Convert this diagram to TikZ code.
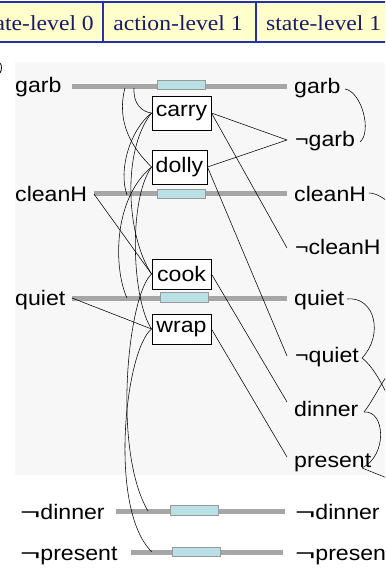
\documentclass[tikz,border=0pt]{standalone}
\usepackage{fontspec}
\setmainfont[FakeStretch=1.1]{Liberation Sans}
\newfontfamily\hdrfont[FakeStretch=1.1]{Liberation Serif}
\definecolor{hdrfill}{HTML}{FFFFCC}
\definecolor{hdrline}{HTML}{2233AA}
\definecolor{hdrtext}{HTML}{1A1A66}
\definecolor{barcol}{HTML}{A6A6A6}
\definecolor{cyanbox}{HTML}{B9E1E5}
\definecolor{bggray}{HTML}{F7F7F7}
\newcommand{\lneg}{\scalebox{1.5}[1]{¬}}
\begin{document}
\begin{tikzpicture}[x=1pt,y=-1pt,
  hdr/.style={font=\hdrfont\fontsize{21.5}{26}\selectfont, text=hdrtext, inner sep=0},
  prop/.style={font=\fontsize{21}{25}\selectfont, inner sep=0, anchor=base west},
  bar/.style={draw=barcol, line width=5pt},
  noop/.style={rectangle, draw=gray!80, fill=cyanbox, line width=0.6pt, minimum width=48pt, minimum height=9.5pt, inner sep=0},
  act/.style={rectangle, draw=black, fill=white, line width=0.9pt, inner sep=0, font=\fontsize{21}{25}\selectfont},
  link/.style={draw=black, line width=0.55pt},
  mutex/.style={draw=black, line width=0.55pt}]
\useasboundingbox (0,0) rectangle (385,569);
\clip (0,0) rectangle (385,569);
\fill[white] (0,0) rectangle (385,569);
\fill[bggray] (15,62) rectangle (385,475);
% header
\draw[hdrline, fill=hdrfill, line width=1.2pt] (-5,2) rectangle (392,42);
\draw[hdrline, line width=1.2pt] (103,2) -- (103,42) (256,2) -- (256,42);
\node[hdr, anchor=base east] (h0) at (94,31) {state-level 0};
\node[hdr, anchor=base] (h1) at (178,31) {action-level 1};
\node[hdr, anchor=base west] (h2) at (266,31) {state-level 1};
% stray mark at left edge
\draw[line width=0.8pt] (0,63) .. controls (2,65) and (2,70) .. (0,73);
% no-op bars
\coordinate (gL) at (72,87);   \coordinate (gR) at (287,87);
\coordinate (cL) at (94,194);  \coordinate (cR) at (287,194);
\coordinate (qL) at (72,298);  \coordinate (qR) at (287,298);
\coordinate (dL) at (116,511); \coordinate (dR) at (285,511);
\coordinate (pL) at (131,552); \coordinate (pR) at (283,552);
\draw[bar] (gL) -- (gR);
\draw[bar] (cL) -- (cR);
\draw[bar] (qL) -- (qR);
\draw[bar] (dL) -- (dR);
\draw[bar] (pL) -- (pR);
\node[noop] (gN) at (181,85) {};
\node[noop] (cN) at (181,194) {};
\node[noop] (qN) at (184,297.5) {};
\node[noop] (dN) at (194.5,510.5) {};
\node[noop] (pN) at (196,552) {};
% left labels
\node[prop] (lgarb) at (15,93) {garb};
\node[prop] (lclean) at (15,201) {cleanH};
\node[prop] (lquiet) at (15,305) {quiet};
\node[prop] (lndinner) at (20,519) {\lneg dinner};
\node[prop] (lnpresent) at (20,560) {\lneg present};
% right labels
\node[prop] (rgarb) at (294,94) {garb};
\node[prop] (rngarb) at (295,147) {¬garb};
\node[prop] (rclean) at (294,201) {cleanH};
\node[prop] (rnclean) at (295,254) {¬cleanH};
\node[prop] (rquiet) at (294,305) {quiet};
\node[prop] (rnquiet) at (295,362) {¬quiet};
\node[prop] (rdinner) at (294,416) {dinner};
\node[prop] (rpresent) at (294,467) {present};
\node[prop] (rndinner) at (295,519) {\lneg dinner};
\node[prop] (rnpresent) at (295,560) {\lneg present};
% action boxes
\node[act, minimum width=59pt, minimum height=34pt] (carry) at (181.5,113) {carry};
\node[act, minimum width=55pt, minimum height=34pt] (dolly) at (179.5,167) {dolly};
\node[act, minimum width=59pt, minimum height=30pt] (cook) at (181.5,274) {cook};
\node[act, minimum width=59pt, minimum height=30pt] (wrap) at (181.5,329) {wrap};
% ends of effect lines
\coordinate (ngarbIn) at (287,140);
\coordinate (ncleanIn) at (287,248);
\coordinate (nquietIn) at (287,356);
\coordinate (dinnerIn) at (287,402);
\coordinate (presentIn) at (287,457);
% precondition lines
\draw[link] (cL) -- (cook.west);
\draw[link] (qL) -- (wrap.west);
% effect lines
\draw[link] (carry.east) -- (ngarbIn);
\draw[link] (dolly.east) -- (ngarbIn);
\draw[link] (carry.east) -- (ncleanIn);
\draw[link] (dolly.east) -- (nquietIn);
\draw[link] (cook.east) -- (dinnerIn);
\draw[link] (wrap.east) -- (presentIn);
% mutex arcs, action level
\coordinate (gM1) at (134,88); \coordinate (gM2) at (125,88);
\coordinate (cM) at (127,195); \coordinate (qM) at (127,298);
\coordinate (dM) at (148,511); \coordinate (pM) at (152,552);
\draw[mutex] (gM1) .. controls (133,104) and (142,112) .. (carry.west);
\draw[mutex] (gM2) .. controls (116,122) and (132,148) .. (dolly.west);
\draw[mutex] (carry.west) .. controls (130,130) and (118,170) .. (cM);
\draw[mutex] (dolly.west) .. controls (112,200) and (114,270) .. (qM);
\draw[mutex] (carry.west) .. controls (122,150) and (126,235) .. (cook.west);
\draw[mutex] (dolly.west) .. controls (128,200) and (132,300) .. (wrap.west);
\draw[mutex] (cook.west) .. controls (128,295) and (112,450) .. (dM);
\draw[mutex] (wrap.west) .. controls (125,350) and (108,510) .. (pM);
% mutex arcs, state level 1
\coordinate (gRm) at (345,89);  \coordinate (ngRm) at (360,142);
\coordinate (cRm) at (369,193); \coordinate (cOff) at (392,205);
\coordinate (qRm) at (347,299); \coordinate (nqRm) at (362,358);
\coordinate (dRm) at (364,412); \coordinate (prRm) at (362,468);
\coordinate (nqOff) at (392,405); \coordinate (dOff) at (392,368);
\coordinate (pOff) at (392,480);
\draw[mutex] (gRm) .. controls (362,92) and (372,132) .. (ngRm);
\draw[mutex] (cRm) .. controls (376,193) and (384,198) .. (cOff);
\draw[mutex] (qRm) .. controls (375,296) and (384,335) .. (nqRm);
\draw[mutex] (nqRm) .. controls (375,368) and (385,390) .. (nqOff);
\draw[mutex] (dRm) .. controls (372,402) and (380,385) .. (dOff);
\draw[mutex] (dRm) .. controls (385,410) and (388,455) .. (prRm);
\draw[mutex] (prRm) .. controls (372,472) and (382,476) .. (pOff);
\end{tikzpicture}
\end{document}
